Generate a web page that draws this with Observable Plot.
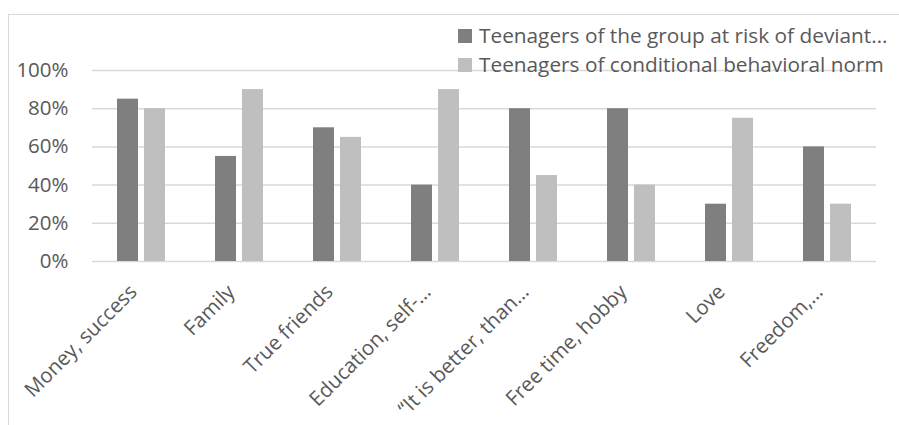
<!DOCTYPE html>
<html>
<head>
<meta charset="utf-8">
<script src="https://cdn.jsdelivr.net/npm/d3@7"></script>
<script src="https://cdn.jsdelivr.net/npm/@observablehq/plot@0.6"></script>
<style>
  html, body { margin: 0; padding: 0; background: #fff; }
  #wrap { position: relative; width: 899px; height: 425px; overflow: hidden; font-family: "Open Sans", sans-serif; color: #595959; }
  #frame { position: absolute; left: 8px; top: 14px; width: 1000px; height: 1000px; border: 1.5px solid #d9d9d9; box-sizing: border-box; }
  #chart { position: absolute; left: 0; top: 0; }
  #legend { position: absolute; left: 458px; top: 21px; font-size: 20.8px; line-height: 29px; white-space: nowrap; }
  .item { display: flex; align-items: center; }
  .swatch { width: 14px; height: 14px; margin-right: 7px; flex: none; }
</style>
</head>
<body>
<div id="wrap">
  <div id="frame"></div>
  <div id="chart"></div>
  <div id="legend"></div>
</div>
<script>
// Life values named by each group of teenagers (share of respondents)
const categories = [
  "Money, success",
  "Family",
  "True friends",
  "Education, self-…",
  "“It is better, than…",
  "Free time, hobby",
  "Love",
  "Freedom,…"
];
const seriesNames = [
  "Teenagers of the group at risk of deviant…",
  "Teenagers of conditional behavioral norm"
];
const riskGroup = [0.85, 0.55, 0.70, 0.40, 0.80, 0.80, 0.30, 0.60];
const normGroup = [0.80, 0.90, 0.65, 0.90, 0.45, 0.40, 0.75, 0.30];
const seriesColors = ["#7f7f7f", "#bfbfbf"];
const yTicks = [0, 0.2, 0.4, 0.6, 0.8, 1.0];

const rows = categories.flatMap((c, i) => [
  {category: c, series: seriesNames[0], value: riskGroup[i]},
  {category: c, series: seriesNames[1], value: normGroup[i]}
]);

const chart = Plot.plot({
  width: 899,
  height: 425,
  marginLeft: 89,
  marginRight: 21,
  marginTop: 70,
  marginBottom: 164,
  style: {fontFamily: "Open Sans", fontSize: "20.5px", color: "#595959", background: "transparent", overflow: "visible"},
  fx: {domain: categories, padding: 0, label: null},
  x: {domain: seriesNames, paddingInner: 0.21, paddingOuter: 0.87, axis: null},
  y: {domain: [0, 1], label: null},
  color: {domain: seriesNames, range: seriesColors},
  marks: [
    Plot.gridY(yTicks, {stroke: "#d9d9d9", strokeOpacity: 1, strokeWidth: 1.5}),
    Plot.barY(rows, {fx: "category", x: "series", y: "value", fill: "series", inset: 0}),
    Plot.axisY(yTicks, {
      tickSize: 0, tickPadding: 24, label: null,
      tickFormat: d => Math.round(d * 100) + "%",
      fill: "#595959", fontSize: 20.5
    }),
    Plot.axisFx({
      anchor: "bottom",
      tickSize: 0, tickPadding: 27, tickRotate: -45, dx: -8, label: null,
      fill: "#595959", fontSize: 20.5
    })
  ]
});
document.getElementById("chart").appendChild(chart);

const legend = document.getElementById("legend");
seriesNames.forEach((name, i) => {
  const item = document.createElement("div");
  item.className = "item";
  const sw = document.createElement("span");
  sw.className = "swatch";
  sw.style.background = seriesColors[i];
  const label = document.createElement("span");
  label.textContent = name;
  item.appendChild(sw);
  item.appendChild(label);
  legend.appendChild(item);
});
</script>
</body>
</html>
